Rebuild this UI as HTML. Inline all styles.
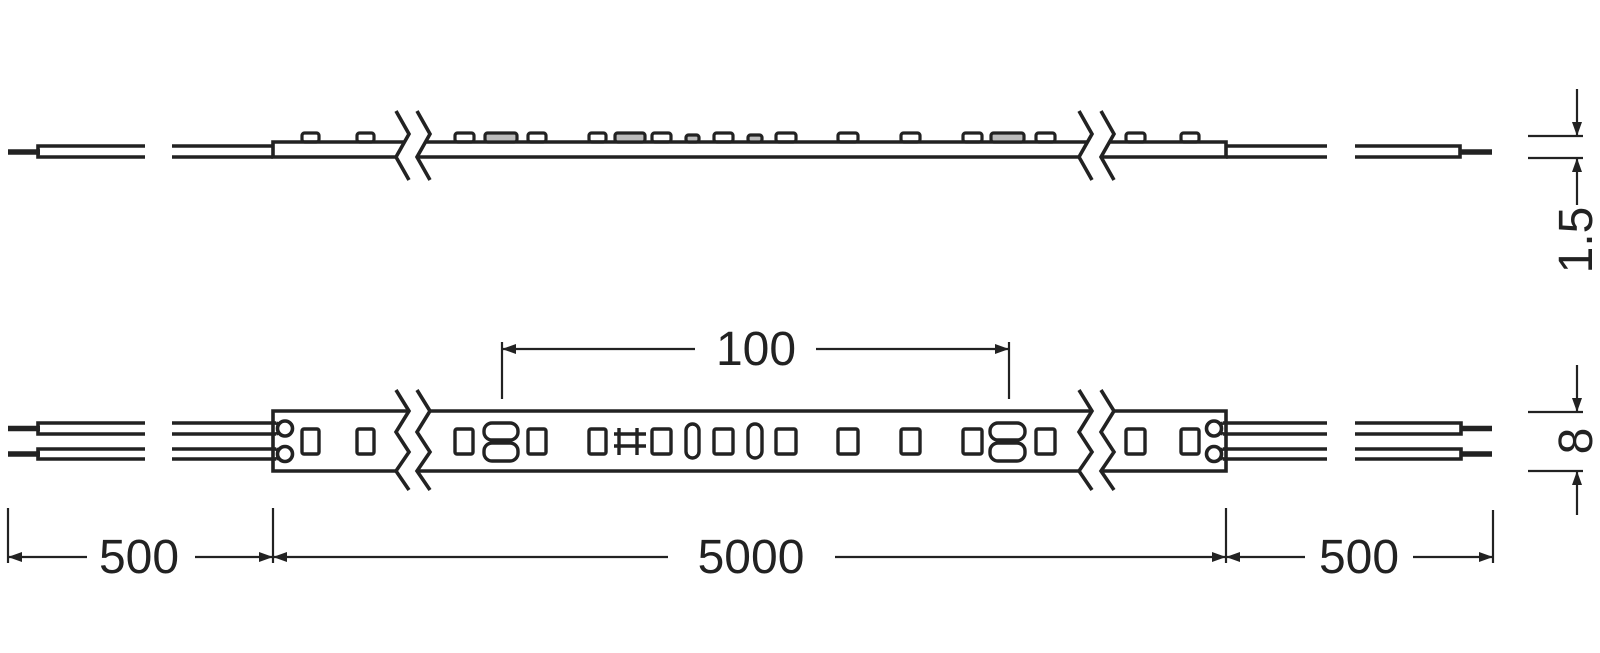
<!DOCTYPE html>
<html><head><meta charset="utf-8"><style>
html,body{margin:0;padding:0;background:#fff;}
svg{display:block;}
text{font-family:"Liberation Sans",sans-serif;font-size:48px;fill:#222;}
</style></head><body>
<svg width="1600" height="653" viewBox="0 0 1600 653" xmlns="http://www.w3.org/2000/svg">
<defs>
<marker id="ah" viewBox="0 0 14 10" refX="14" refY="5" markerWidth="14" markerHeight="10" markerUnits="userSpaceOnUse" orient="auto">
<path d="M0,0 L14,5 L0,10 z" fill="#222"/></marker>
</defs>
<g fill="none" stroke="#222" stroke-width="3.6" stroke-linejoin="miter">
<!-- ===== TOP VIEW ===== -->
<line x1="8" y1="152" x2="40" y2="152" stroke-width="5.5"/>
<path d="M145,146 H38 V157 H145"/>
<path d="M172,146 H273 M172,157 H273"/>
<path d="M405,142 H273 V157 H396"/>
<polyline points="396,111 409,134 396,157 409,180"/>
<polyline points="417,111 430,134 417,157 430,180"/>
<path d="M426,142 H1088 M417,157 H1079"/>
<polyline points="1079,111 1092,134 1079,157 1092,180"/>
<polyline points="1101,111 1114,134 1101,157 1114,180"/>
<path d="M1110,142 H1226 V157 H1101"/>
<path d="M1226,146 H1327 M1226,157 H1327"/>
<path d="M1355,146 H1460 V157 H1355"/>
<line x1="1460" y1="152" x2="1492" y2="152" stroke-width="5.5"/>
<!-- bumps -->
<g stroke-width="3.2">
<rect x="302" y="133" width="17" height="9" rx="2.5"/>
<rect x="357" y="133" width="17" height="9" rx="2.5"/>
<rect x="455" y="133" width="19" height="9" rx="2.5"/>
<rect x="485" y="133" width="32" height="9" rx="2.5" fill="#bbb"/>
<rect x="528" y="133" width="18" height="9" rx="2.5"/>
<rect x="589" y="133" width="17" height="9" rx="2.5"/>
<rect x="615" y="133" width="30" height="9" rx="2.5" fill="#bbb"/>
<rect x="652" y="133" width="19" height="9" rx="2.5"/>
<rect x="686" y="135" width="13" height="7" rx="2.5" fill="#bbb"/>
<rect x="714" y="133" width="19" height="9" rx="2.5"/>
<rect x="748" y="135" width="14" height="7" rx="2.5" fill="#bbb"/>
<rect x="776" y="133" width="20" height="9" rx="2.5"/>
<rect x="838" y="133" width="20" height="9" rx="2.5"/>
<rect x="901" y="133" width="19" height="9" rx="2.5"/>
<rect x="963" y="133" width="19" height="9" rx="2.5"/>
<rect x="991" y="133" width="33" height="9" rx="2.5" fill="#bbb"/>
<rect x="1036" y="133" width="19" height="9" rx="2.5"/>
<rect x="1126" y="133" width="19" height="9" rx="2.5"/>
<rect x="1181" y="133" width="18" height="9" rx="2.5"/>
</g>

<!-- ===== BOTTOM VIEW ===== -->
<line x1="8" y1="428.5" x2="40" y2="428.5" stroke-width="5.5"/>
<line x1="8" y1="454" x2="40" y2="454" stroke-width="5.5"/>
<path d="M145,423 H38 V434 H145"/>
<path d="M145,449 H38 V459 H145"/>
<path d="M172,423 H276 M172,434 H276 M172,449 H276 M172,459 H276"/>
<path d="M409,411 H273 V471 H396"/>
<path d="M276,423 L280,425 M276,434 L280,432 M276,449 L280,451 M276,459 L280,457"/>
<circle cx="285" cy="428.5" r="7.5" fill="#fff"/>
<circle cx="285" cy="454" r="7.5" fill="#fff"/>
<polyline points="396,390 409,411 396,432 409,452 396,471 409,490"/>
<polyline points="417,390 430,411 417,432 430,452 417,471 430,490"/>
<path d="M430,411 H1092 M417,471 H1079"/>
<polyline points="1079,390 1092,411 1079,432 1092,452 1079,471 1092,490"/>
<polyline points="1101,390 1114,411 1101,432 1114,452 1101,471 1114,490"/>
<path d="M1114,411 H1226 V471 H1101"/>
<path d="M1223,423 H1327 M1223,434 H1327 M1223,449 H1327 M1223,459 H1327"/>
<path d="M1223,423 L1219,425 M1223,434 L1219,432 M1223,449 L1219,451 M1223,459 L1219,457"/>
<circle cx="1214" cy="428.5" r="7.5" fill="#fff"/>
<circle cx="1214" cy="454" r="7.5" fill="#fff"/>
<path d="M1355,423 H1461 V434 H1355"/>
<path d="M1355,449 H1461 V459 H1355"/>
<line x1="1461" y1="428.5" x2="1492" y2="428.5" stroke-width="5.5"/>
<line x1="1461" y1="454" x2="1492" y2="454" stroke-width="5.5"/>
<!-- LEDs -->
<g stroke-width="3.4">
<rect x="302" y="429" width="17" height="25" rx="2"/>
<rect x="357" y="429" width="17" height="25" rx="2"/>
<rect x="455" y="429" width="18" height="25" rx="2"/>
<rect x="484" y="423" width="34" height="17" rx="8"/>
<rect x="484" y="443" width="34" height="18" rx="8"/>
<rect x="528" y="429" width="18" height="25" rx="2"/>
<rect x="589" y="429" width="17" height="25" rx="2"/>
<path d="M619,428 V455 M637,428 V455 M614,434 H646 M614,446 H646"/>
<rect x="652" y="429" width="19" height="25" rx="2"/>
<rect x="686" y="424" width="13" height="34" rx="6.5"/>
<rect x="714" y="429" width="19" height="25" rx="2"/>
<rect x="748" y="424" width="14" height="34" rx="7"/>
<rect x="776" y="429" width="20" height="25" rx="2"/>
<rect x="838" y="429" width="20" height="25" rx="2"/>
<rect x="901" y="429" width="19" height="25" rx="2"/>
<rect x="963" y="429" width="19" height="25" rx="2"/>
<rect x="990" y="423" width="35" height="17" rx="8"/>
<rect x="990" y="443" width="35" height="18" rx="8"/>
<rect x="1036" y="429" width="19" height="25" rx="2"/>
<rect x="1126" y="429" width="19" height="25" rx="2"/>
<rect x="1181" y="429" width="18" height="25" rx="2"/>
</g>
</g>

<!-- ===== DIMENSIONS ===== -->
<g fill="none" stroke="#222" stroke-width="2.2">
<line x1="1528" y1="136" x2="1583" y2="136"/>
<line x1="1528" y1="158" x2="1583" y2="158"/>
<line x1="1577" y1="89" x2="1577" y2="136" marker-end="url(#ah)"/>
<line x1="1577" y1="205" x2="1577" y2="158" marker-end="url(#ah)"/>
<line x1="1528" y1="412" x2="1583" y2="412"/>
<line x1="1528" y1="471" x2="1583" y2="471"/>
<line x1="1577" y1="365" x2="1577" y2="412" marker-end="url(#ah)"/>
<line x1="1577" y1="515" x2="1577" y2="471" marker-end="url(#ah)"/>
<line x1="502" y1="342" x2="502" y2="399"/>
<line x1="1009" y1="342" x2="1009" y2="399"/>
<line x1="695" y1="349" x2="502" y2="349" marker-end="url(#ah)"/>
<line x1="816" y1="349" x2="1009" y2="349" marker-end="url(#ah)"/>
<line x1="8" y1="508" x2="8" y2="563"/>
<line x1="273" y1="508" x2="273" y2="563"/>
<line x1="1226" y1="508" x2="1226" y2="563"/>
<line x1="1493" y1="510" x2="1493" y2="563"/>
<line x1="87" y1="557" x2="8" y2="557" marker-end="url(#ah)"/>
<line x1="195" y1="557" x2="273" y2="557" marker-end="url(#ah)"/>
<line x1="668" y1="557" x2="273" y2="557" marker-end="url(#ah)"/>
<line x1="835" y1="557" x2="1226" y2="557" marker-end="url(#ah)"/>
<line x1="1305" y1="557" x2="1226" y2="557" marker-end="url(#ah)"/>
<line x1="1413" y1="557" x2="1493" y2="557" marker-end="url(#ah)"/>
</g>
<text x="756" y="365" text-anchor="middle">100</text>
<text x="139" y="573" text-anchor="middle">500</text>
<text x="751" y="573" text-anchor="middle">5000</text>
<text x="1359" y="573" text-anchor="middle">500</text>
<text transform="translate(1592,240) rotate(-90)" text-anchor="middle">1.5</text>
<text transform="translate(1592,441) rotate(-90)" text-anchor="middle">8</text>
</svg>
</body></html>
